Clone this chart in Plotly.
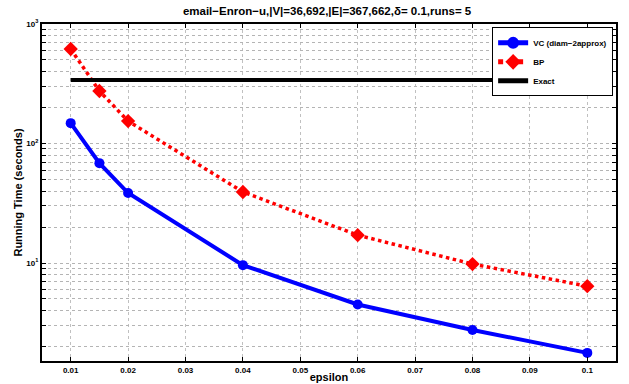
import plotly.graph_objects as go

epsilon = [0.01, 0.015, 0.02, 0.04, 0.06, 0.08, 0.1]
vc_time = [148, 68.5, 38.5, 9.6, 4.5, 2.75, 1.77]
bp_time = [618, 275, 154, 39.3, 17.1, 9.8, 6.4]
exact_x = [0.01, 0.1]
exact_time = [340, 340]

x_ticks = [0.01, 0.02, 0.03, 0.04, 0.05, 0.06, 0.07, 0.08, 0.09, 0.1]
x_ticktext = ["0.01", "0.02", "0.03", "0.04", "0.05", "0.06", "0.07", "0.08", "0.09", "0.1"]
decade_text = {10: "10<sup>1</sup>", 100: "10<sup>2</sup>", 1000: "10<sup>3</sup>"}

y_ticks = []
y_ticktext = []
for d in [1, 10, 100]:
    for m in range(1, 10):
        v = m * d
        if v < 1.5:
            continue
        y_ticks.append(v)
        y_ticktext.append(decade_text.get(v, ""))
y_ticks.append(1000)
y_ticktext.append(decade_text[1000])

fig = go.Figure()
fig.add_trace(go.Scatter(x=epsilon, y=vc_time, mode="lines+markers", name="VC (diam\u22122approx)",
                         line=dict(color="#0000ff", width=4),
                         marker=dict(symbol="circle", size=10, color="#0000ff")))
fig.add_trace(go.Scatter(x=epsilon, y=bp_time, mode="lines+markers", name="BP",
                         line=dict(color="#ff0000", width=3.5, dash="dot"),
                         marker=dict(symbol="diamond", size=11, color="#ff0000")))
fig.add_trace(go.Scatter(x=exact_x, y=exact_time, mode="lines", name="Exact",
                         line=dict(color="#000000", width=4)))

font = "Liberation Sans, Arial, Helvetica, sans-serif"
fig.update_layout(
    width=629, height=384,
    margin=dict(l=42, r=13, t=24, b=23),
    paper_bgcolor="white", plot_bgcolor="white",
    font=dict(family=font, color="black"),
    title=dict(text="<b>email\u2212Enron\u2212u,|V|=36,692,|E|=367,662,\u03b4= 0.1,runs= 5</b>",
               x=0.52, xanchor="center", y=0.972, yanchor="middle", font=dict(size=11.5)),
    showlegend=True,
    legend=dict(x=0.995, y=0.99, xanchor="right", yanchor="top",
                bgcolor="white", bordercolor="black", borderwidth=1,
                font=dict(size=8, weight="bold"), tracegroupgap=0, itemwidth=30,
                itemsizing="constant"),
)
fig.update_xaxes(
    range=[0.005, 0.105], tickvals=x_ticks, ticktext=x_ticktext,
    tickfont=dict(size=8, weight="bold"), ticks="inside", ticklen=4, tickcolor="black",
    showline=True, linecolor="black", linewidth=2, mirror="ticks",
    showgrid=True, gridcolor="#c0c0c0", griddash="dot", gridwidth=1,
    zeroline=False, automargin=False,
    title=dict(text="<b>epsilon</b>", font=dict(size=11), standoff=0),
)
fig.update_yaxes(
    type="log", range=[0.18, 3], tickvals=y_ticks, ticktext=y_ticktext,
    tickfont=dict(size=8, weight="bold"), ticks="inside", ticklen=4, tickcolor="black",
    showline=True, linecolor="black", linewidth=2, mirror="ticks",
    showgrid=True, gridcolor="#b4b4b4", griddash="dot", gridwidth=1,
    zeroline=False, automargin=False,
    title=dict(text="<b>Running Time (seconds)</b>", font=dict(size=11), standoff=2),
)

fig.write_html("out.html", config={"displayModeBar": False},
               post_script="document.body.style.margin='0';document.body.style.overflow='hidden';")
